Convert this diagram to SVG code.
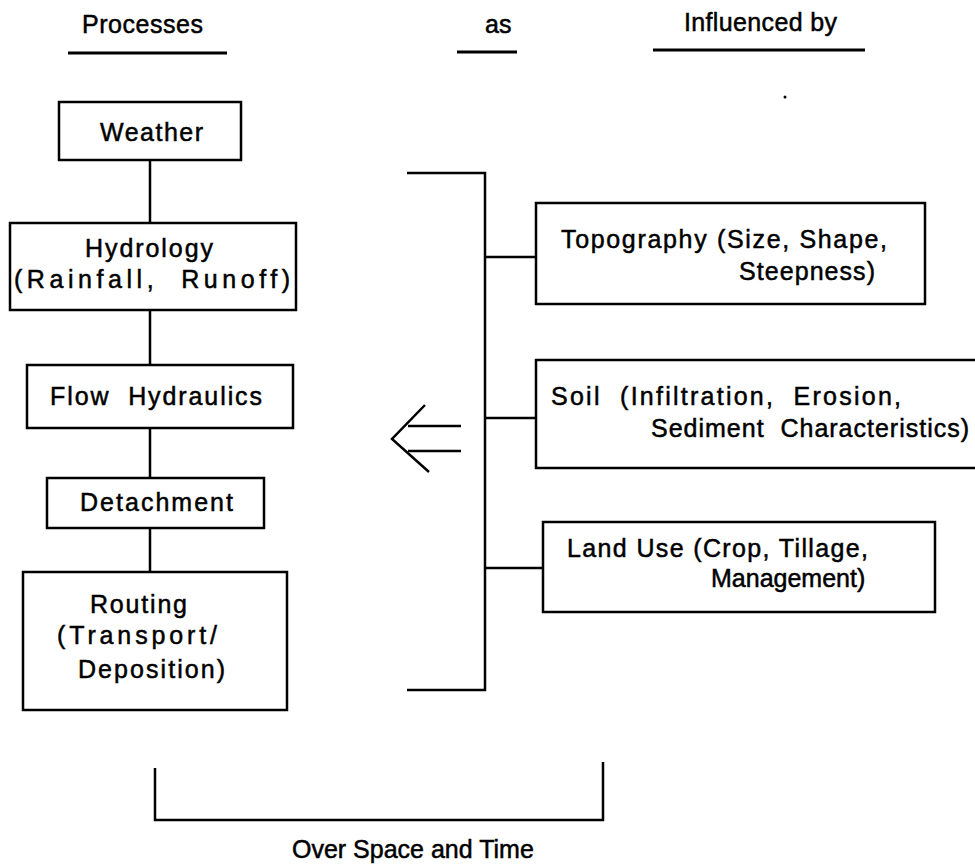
<svg xmlns="http://www.w3.org/2000/svg" width="975" height="864" viewBox="0 0 975 864">
<style>
text{font-family:"Liberation Sans",Arial,sans-serif;font-size:25px;fill:#000;stroke:#000;stroke-width:0.5;}
.box{fill:#fff;stroke:#000;stroke-width:2.5;}
.ln{fill:none;stroke:#000;stroke-width:2.5;}
.ul{fill:none;stroke:#000;stroke-width:3;}
</style>
<rect width="975" height="864" fill="#fff"/>
<g id="headers">
<text x="82" y="33" textLength="121" lengthAdjust="spacing">Processes</text>
<line class="ul" x1="68" y1="53" x2="227" y2="53"/>
<text x="485" y="33">as</text>
<line class="ul" x1="457" y1="52" x2="517" y2="52"/>
<text x="684" y="31" textLength="153" lengthAdjust="spacing">Influenced by</text>
<line class="ul" x1="653" y1="50" x2="865" y2="50"/>
<circle cx="785" cy="97" r="1.5" fill="#000"/>
</g>
<g id="connectors">
<line class="ln" x1="150" y1="160" x2="150" y2="223"/>
<line class="ln" x1="150" y1="310" x2="150" y2="365"/>
<line class="ln" x1="150" y1="428" x2="150" y2="478"/>
<line class="ln" x1="150" y1="528" x2="150" y2="572"/>
<polyline class="ln" points="407,173 485,173 485,690 407,690"/>
<line class="ln" x1="485" y1="257" x2="536" y2="257"/>
<line class="ln" x1="485" y1="418" x2="536" y2="418"/>
<line class="ln" x1="485" y1="568" x2="543" y2="568"/>
<g id="arrow">
<polyline class="ln" points="425,405 392,439 429,472"/>
<line class="ln" x1="408" y1="426" x2="461" y2="426"/>
<line class="ln" x1="408" y1="451" x2="461" y2="451"/>
</g>
<polyline class="ln" points="155,768 155,820 603,820 603,762"/>
</g>
<g id="weather">
<rect class="box" x="59" y="102" width="182" height="58"/>
<text x="100" y="141" textLength="103" lengthAdjust="spacing">Weather</text>
</g>
<g id="hydrology">
<rect class="box" x="10" y="223" width="286" height="87"/>
<text x="85" y="257" textLength="128" lengthAdjust="spacing">Hydrology</text>
<text x="14" y="288" textLength="276" lengthAdjust="spacing" xml:space="preserve">(Rainfall,  Runoff)</text>
</g>
<g id="flow">
<rect class="box" x="27" y="365" width="266" height="63"/>
<text x="50" y="405" textLength="212" lengthAdjust="spacing" xml:space="preserve">Flow  Hydraulics</text>
</g>
<g id="detachment">
<rect class="box" x="47" y="478" width="217" height="50"/>
<text x="80" y="511" textLength="153" lengthAdjust="spacing">Detachment</text>
</g>
<g id="routing">
<rect class="box" x="23" y="572" width="264" height="138"/>
<text x="90" y="613" textLength="97" lengthAdjust="spacing">Routing</text>
<text x="57" y="644" textLength="160" lengthAdjust="spacing">(Transport/</text>
<text x="78" y="678" textLength="147" lengthAdjust="spacing">Deposition)</text>
</g>
<g id="topography">
<rect class="box" x="536" y="203" width="389" height="101"/>
<text x="561" y="248" textLength="326" lengthAdjust="spacing">Topography (Size, Shape,</text>
<text x="739" y="280" textLength="136" lengthAdjust="spacing">Steepness)</text>
</g>
<g id="soil">
<rect class="box" x="536" y="360" width="450" height="108"/>
<text x="551" y="405" textLength="350" lengthAdjust="spacing" xml:space="preserve">Soil  (Infiltration,  Erosion,</text>
<text x="651" y="437" textLength="318" lengthAdjust="spacing" xml:space="preserve">Sediment  Characteristics)</text>
</g>
<g id="landuse">
<rect class="box" x="543" y="522" width="392" height="90"/>
<text x="567" y="557" textLength="301" lengthAdjust="spacing">Land Use (Crop, Tillage,</text>
<text x="711" y="587">Management)</text>
</g>
<g id="footer">
<text x="292" y="858">Over Space and Time</text>
</g>
</svg>
